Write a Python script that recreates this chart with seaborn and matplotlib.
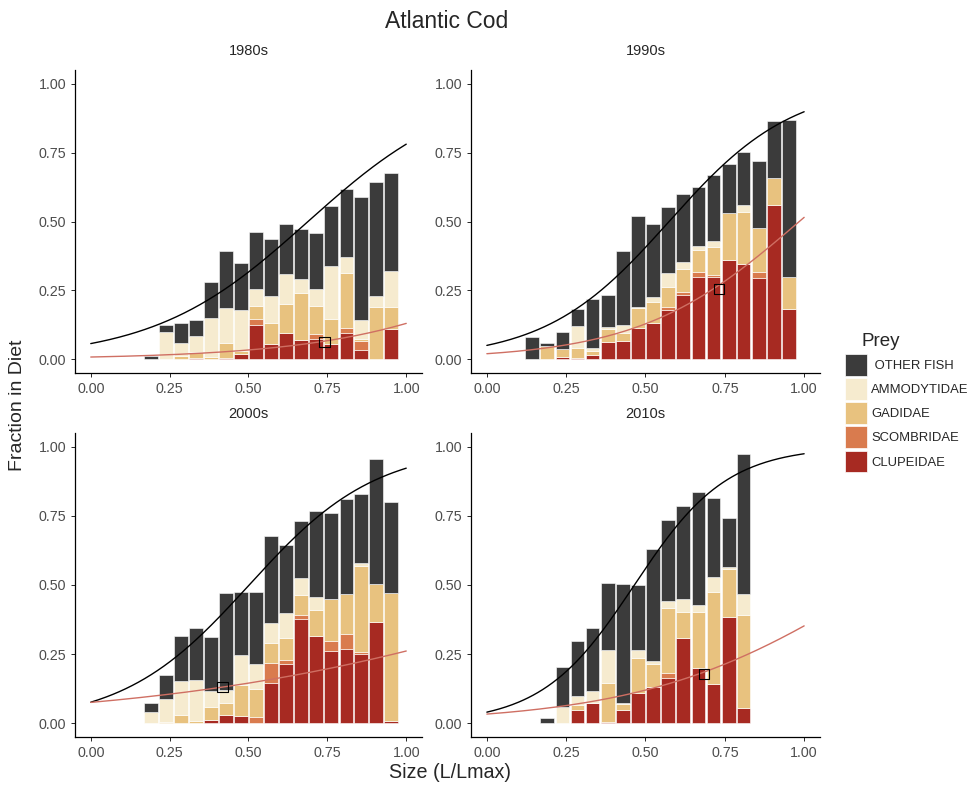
import numpy as np
import pandas as pd
import matplotlib
matplotlib.use("Agg")
import matplotlib.pyplot as plt
import seaborn as sns
from matplotlib.patches import Patch
from matplotlib.ticker import FormatStrFormatter

# size bin midpoints (L/Lmax), shared by all decades
size_mid = [0.143, 0.190, 0.238, 0.286, 0.333, 0.381, 0.429, 0.476, 0.524,
            0.571, 0.619, 0.667, 0.714, 0.762, 0.810, 0.857, 0.905, 0.952]
bin_width = 0.0476

decades = ["1980s", "1990s", "2000s", "2010s"]
prey_order = [" OTHER FISH", "AMMODYTIDAE", "GADIDAE", "SCOMBRIDAE", "CLUPEIDAE"]
prey_colors = ["#3B3B3B", "#F6EBCF", "#E8C27F", "#D97B4E", "#A72A22"]

# fraction in diet per size bin
clup_1980s = [0, 0, 0, 0, 0.005, 0, 0.004, 0.018, 0.125, 0.057, 0.096, 0.069, 0.073, 0.055, 0.097, 0.032, 0, 0.11]
scomb_1980s = [0, 0, 0, 0, 0, 0, 0, 0, 0.02, 0, 0, 0, 0.017, 0, 0.015, 0.033, 0, 0]
gad_1980s = [0, 0, 0, 0.012, 0.023, 0.008, 0.055, 0.012, 0.05, 0.076, 0.105, 0.17, 0.104, 0.092, 0.2, 0.007, 0.189, 0.08]
ammo_1980s = [0, 0, 0.1, 0.046, 0.056, 0.141, 0.126, 0.148, 0.061, 0.095, 0.109, 0.054, 0.061, 0.192, 0.058, 0.072, 0.039, 0.131]
other_1980s = [0, 0.012, 0.025, 0.074, 0.06, 0.13, 0.208, 0.172, 0.205, 0.207, 0.18, 0.179, 0.203, 0.216, 0.248, 0.444, 0.416, 0.354]

clup_1990s = [0, 0, 0.008, 0.003, 0.015, 0.064, 0.067, 0.115, 0.133, 0.18, 0.233, 0.299, 0.3, 0.359, 0.347, 0.296, 0.56, 0.182]
scomb_1990s = [0, 0, 0, 0, 0, 0, 0, 0, 0, 0.009, 0.012, 0.018, 0.005, 0, 0, 0.02, 0, 0]
gad_1990s = [0, 0.047, 0.028, 0.039, 0.014, 0.045, 0.03, 0.07, 0.076, 0.075, 0.083, 0.08, 0.104, 0.171, 0.189, 0.159, 0.097, 0.117]
ammo_1990s = [0, 0, 0, 0.079, 0.013, 0.007, 0.028, 0.005, 0.018, 0.05, 0.026, 0.015, 0.019, 0, 0.024, 0, 0, 0]
other_1990s = [0.08, 0.012, 0.062, 0.061, 0.176, 0.118, 0.267, 0.331, 0.265, 0.239, 0.245, 0.215, 0.239, 0.177, 0.194, 0.245, 0.207, 0.571]

clup_2000s = [0, 0, 0, 0, 0, 0.013, 0.029, 0.026, 0, 0.145, 0.215, 0.377, 0.314, 0.262, 0.27, 0.251, 0.365, 0.007]
scomb_2000s = [0, 0, 0, 0, 0, 0, 0, 0, 0.022, 0.073, 0.015, 0.015, 0, 0.037, 0.052, 0.007, 0, 0]
gad_2000s = [0, 0, 0.005, 0.028, 0.008, 0.045, 0.044, 0.112, 0.102, 0.072, 0.078, 0.073, 0.096, 0.15, 0.144, 0.309, 0.138, 0.465]
ammo_2000s = [0, 0.041, 0.081, 0.124, 0.148, 0.059, 0.047, 0.108, 0.09, 0.073, 0.091, 0.062, 0.046, 0, 0, 0.013, 0, 0]
other_2000s = [0, 0.033, 0.089, 0.163, 0.188, 0.196, 0.351, 0.23, 0.26, 0.313, 0.246, 0.204, 0.312, 0.313, 0.344, 0.248, 0.452, 0.33]

clup_2010s = [0, 0, 0, 0.046, 0.072, 0.003, 0.047, 0.108, 0.132, 0.164, 0.308, 0.2, 0.14, 0.386, 0.056, 0, 0, 0]
scomb_2010s = [0, 0, 0, 0, 0, 0, 0, 0, 0, 0.016, 0, 0, 0, 0, 0, 0, 0, 0]
gad_2010s = [0, 0, 0, 0.02, 0, 0.142, 0.022, 0.127, 0.081, 0.237, 0.096, 0.204, 0.334, 0.172, 0.336, 0, 0, 0]
ammo_2010s = [0, 0, 0.06, 0.034, 0.045, 0.121, 0.005, 0.029, 0.013, 0.025, 0.047, 0.023, 0.055, 0.008, 0.074, 0, 0, 0]
other_2010s = [0, 0.017, 0.144, 0.197, 0.229, 0.24, 0.43, 0.237, 0.405, 0.294, 0.336, 0.408, 0.284, 0.175, 0.508, 0, 0, 0]

# logistic fits (intercept, slope) and marked point
total_fit_intercept = [-2.81, -2.94, -2.50, -3.18]
total_fit_slope = [4.08, 5.12, 4.98, 6.84]
clup_fit_intercept = [-4.82, -3.89, -2.51, -3.38]
clup_fit_slope = [2.92, 3.95, 1.47, 2.77]
marker_x = [0.741, 0.732, 0.418, 0.684]
marker_y = [0.063, 0.255, 0.130, 0.179]

series = {
    "1980s": [other_1980s, ammo_1980s, gad_1980s, scomb_1980s, clup_1980s],
    "1990s": [other_1990s, ammo_1990s, gad_1990s, scomb_1990s, clup_1990s],
    "2000s": [other_2000s, ammo_2000s, gad_2000s, scomb_2000s, clup_2000s],
    "2010s": [other_2010s, ammo_2010s, gad_2010s, scomb_2010s, clup_2010s],
}

rows = []
for dec in decades:
    for prey, vals in zip(prey_order, series[dec]):
        for s, v in zip(size_mid, vals):
            rows.append({"decade": dec, "size": s, "prey": prey, "frac": v})
df = pd.DataFrame(rows)

mids = np.array(size_mid)
edges = list(mids - bin_width / 2) + [mids[-1] + bin_width / 2]

sns.set_style("white")
plt.rcParams["font.family"] = ["Liberation Sans", "DejaVu Sans"]

W, H = 970, 785
fig = plt.figure(figsize=(W / 100, H / 100), dpi=100)

# axes boxes in pixels: left, right, top, bottom
boxes = [(75, 422, 70, 373), (471, 820, 70, 373),
         (75, 422, 433, 737), (471, 820, 433, 737)]

xs = np.linspace(0, 1, 200)

for i, dec in enumerate(decades):
    l, r, t, b = boxes[i]
    ax = fig.add_axes([l / W, 1 - b / H, (r - l) / W, (b - t) / H])

    sns.histplot(
        data=df[df["decade"] == dec], x="size", weights="frac",
        hue="prey", hue_order=prey_order, palette=prey_colors,
        multiple="stack", bins=edges, shrink=0.9, alpha=1,
        edgecolor="white", linewidth=0.4, legend=False, ax=ax
    )

    total = 1 / (1 + np.exp(-(total_fit_intercept[i] + total_fit_slope[i] * xs)))
    clup = 1 / (1 + np.exp(-(clup_fit_intercept[i] + clup_fit_slope[i] * xs)))
    sns.lineplot(x=xs, y=total, color="black", linewidth=1.0, ax=ax)
    sns.lineplot(x=xs, y=clup, color="#CF6F63", linewidth=1.0, ax=ax)
    ax.scatter([marker_x[i]], [marker_y[i]], marker="s", s=55,
               facecolors="none", edgecolors="black", linewidths=0.8, zorder=5)

    ax.set_xlim(-0.05, 1.05)
    ax.set_ylim(-0.05, 1.05)
    ax.set_xticks([0, 0.25, 0.5, 0.75, 1.0])
    ax.set_yticks([0, 0.25, 0.5, 0.75, 1.0])
    ax.xaxis.set_major_formatter(FormatStrFormatter("%.2f"))
    ax.yaxis.set_major_formatter(FormatStrFormatter("%.2f"))
    ax.tick_params(length=3.2, width=0.7, labelsize=10.3,
                   labelcolor="#4D4D4D", pad=3, left=True, bottom=True)
    ax.set_xlabel("")
    ax.set_ylabel("")
    for side in ["top", "right"]:
        ax.spines[side].set_visible(False)
    for side in ["left", "bottom"]:
        ax.spines[side].set_color("black")
        ax.spines[side].set_linewidth(0.9)
    ax.set_title(dec, fontsize=10.5, pad=11)

fig.text(447 / W, 1 - 22 / H, "Atlantic Cod", fontsize=16.5, ha="center", va="center")
fig.text(450 / W, 1 - 773 / H, "Size (L/Lmax)", fontsize=14.2, ha="center", va="center")
fig.text(18 / W, 1 - 405 / H, "Fraction in Diet", fontsize=14, ha="center",
         va="center", rotation=90)

# legend
fig.text(881 / W, 1 - 342 / H, "Prey", fontsize=13.5, ha="center", va="center")
handles = [Patch(facecolor=c, edgecolor="white", linewidth=0.5) for c in prey_colors]
fig.legend(handles, prey_order, loc="upper left",
           bbox_to_anchor=(845 / W, 1 - 354 / H), frameon=False,
           fontsize=9.4, handlelength=1.67, handleheight=2.19,
           labelspacing=0.18, handletextpad=0.34, borderpad=0, borderaxespad=0)

fig.savefig("out.png", dpi=100)
